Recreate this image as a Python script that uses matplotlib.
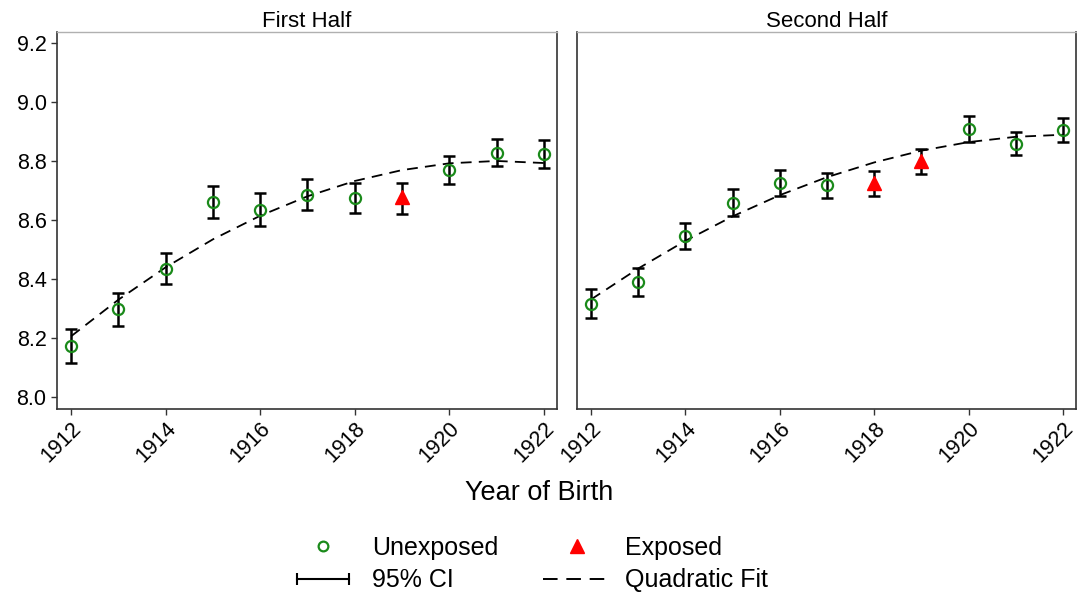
import matplotlib
matplotlib.use("Agg")
import matplotlib.pyplot as plt
from matplotlib.lines import Line2D
from matplotlib.legend_handler import HandlerLine2D
import numpy as np

plt.rcParams["font.family"] = ["Liberation Sans", "DejaVu Sans"]

years = np.arange(1912, 1923)
panel_titles = ["First Half", "Second Half"]

# First half of the year
first_mean = [8.172, 8.297, 8.435, 8.660, 8.634, 8.687, 8.674, 8.677, 8.770, 8.827, 8.825]
first_lo = [8.116, 8.242, 8.382, 8.606, 8.581, 8.634, 8.623, 8.622, 8.724, 8.783, 8.776]
first_hi = [8.232, 8.354, 8.487, 8.715, 8.692, 8.739, 8.726, 8.727, 8.819, 8.875, 8.871]
first_exposed = [False, False, False, False, False, False, False, True, False, False, False]
first_fit = [8.206, 8.330, 8.440, 8.535, 8.615, 8.681, 8.733, 8.770, 8.793, 8.801, 8.794]

# Second half of the year
second_mean = [8.317, 8.390, 8.546, 8.659, 8.726, 8.718, 8.727, 8.801, 8.910, 8.860, 8.907]
second_lo = [8.269, 8.342, 8.501, 8.614, 8.681, 8.674, 8.681, 8.758, 8.865, 8.821, 8.865]
second_hi = [8.367, 8.437, 8.591, 8.705, 8.770, 8.761, 8.766, 8.842, 8.953, 8.898, 8.947]
second_exposed = [False, False, False, False, False, False, True, True, False, False, False]
second_fit = [8.331, 8.436, 8.530, 8.613, 8.685, 8.746, 8.796, 8.836, 8.865, 8.883, 8.890]

y_ticks = [8.0, 8.2, 8.4, 8.6, 8.8, 9.0, 9.2]
x_ticks = [1912, 1914, 1916, 1918, 1920, 1922]

green = "#1a8a1a"
red = "#ff0000"
axis_grey = "#333333"

fig = plt.figure(figsize=(10.77, 5.96), dpi=100)
ax_left = fig.add_axes([0.0529, 0.3138, 0.4643, 0.6326])
ax_right = fig.add_axes([0.5357, 0.3138, 0.4635, 0.6326], sharey=ax_left)

panels = [
    (ax_left, first_mean, first_lo, first_hi, first_exposed, first_fit),
    (ax_right, second_mean, second_lo, second_hi, second_exposed, second_fit),
]

for idx, (ax, mean, lo, hi, exposed, fit) in enumerate(panels):
    mean = np.asarray(mean)
    lo = np.asarray(lo)
    hi = np.asarray(hi)
    exposed = np.asarray(exposed)

    ax.plot(years, fit, color="black", lw=1.3, dashes=(6, 4), zorder=2)
    ax.errorbar(years, mean, yerr=[mean - lo, hi - mean], fmt="none",
                ecolor="black", elinewidth=1.8, capsize=4, capthick=1.8, zorder=3)
    ax.plot(years[~exposed], mean[~exposed], "o", ms=8, mfc="none", mec=green,
            mew=1.6, zorder=4)
    ax.plot(years[exposed], mean[exposed], "^", ms=10, color=red, mec=red, zorder=4)

    ax.set_xlim(1911.7, 1922.28)
    ax.set_ylim(7.959, 9.239)
    ax.set_xticks(x_ticks)
    ax.set_xticklabels([str(x) for x in x_ticks], rotation=45, ha="right",
                       rotation_mode="anchor", fontsize=15.5)
    ax.set_yticks(y_ticks)
    ax.tick_params(axis="both", direction="out", length=4.5, width=1.0,
                   color=axis_grey, labelsize=15.5, pad=3)
    ax.tick_params(axis="x", pad=2)
    ax.set_title(panel_titles[idx], fontsize=16, pad=3)

    for side in ["left", "bottom", "right"]:
        ax.spines[side].set_linewidth(1.2)
        ax.spines[side].set_color(axis_grey)
    ax.spines["top"].set_color("#b0b0b0")
    ax.spines["top"].set_linewidth(1.0)

ax_left.set_yticklabels([f"{v:.1f}" for v in y_ticks])
ax_right.tick_params(axis="y", left=False, labelleft=False)

fig.text(0.5005, 1 - 493 / 596, "Year of Birth", ha="center", va="center", fontsize=19.5)

h_unexp = Line2D([], [], ls="none", marker="o", ms=7, mfc="none", mec=green, mew=1.6)
h_exp = Line2D([], [], ls="none", marker="^", ms=10, color=red)
h_ci = Line2D([], [], color="black", lw=1.5, marker="|", ms=9, mew=1.5)
h_fit = Line2D([], [], color="black", lw=1.4, dashes=(7.5, 4.5))

fig.legend(
    [h_unexp, h_ci, h_exp, h_fit],
    ["Unexposed", "95% CI", "Exposed", "Quadratic Fit"],
    ncol=2, loc="center", bbox_to_anchor=(0.491, 1 - 564 / 596),
    frameon=False, fontsize=18, handlelength=2.7, handletextpad=0.6,
    columnspacing=1.8, labelspacing=0.35,
    handler_map={h_ci: HandlerLine2D(numpoints=2)},
)

fig.savefig("out.png", dpi=100)
